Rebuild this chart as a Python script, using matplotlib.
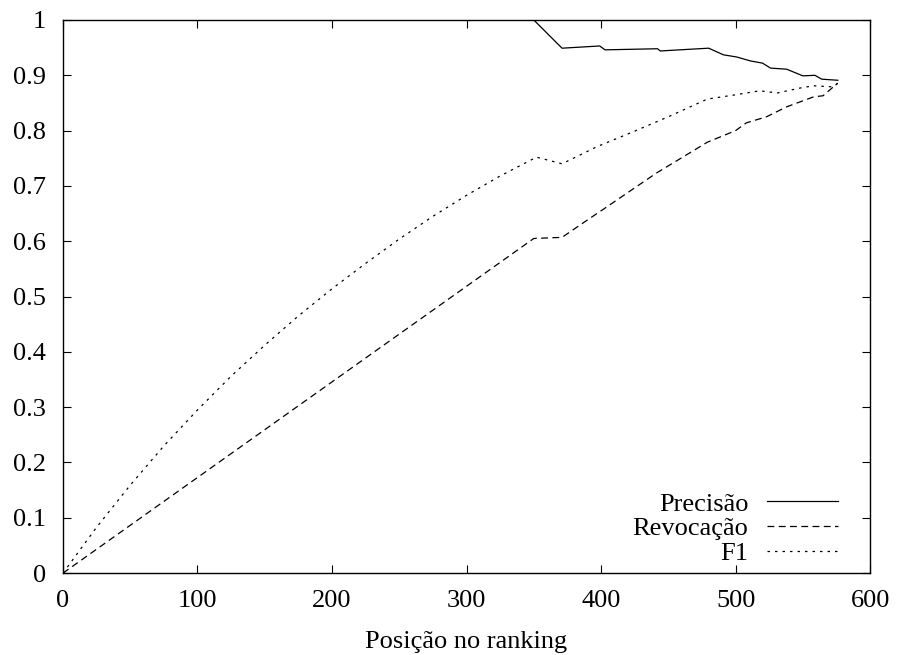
import matplotlib.pyplot as plt

# values
rank_p = [0, 350, 371, 399, 403, 442, 444, 480, 491, 501, 511, 520, 526, 538, 550, 559, 564, 576]
precisao = [1.0, 1.0, 0.949, 0.953, 0.946, 0.948, 0.944, 0.949, 0.937, 0.933, 0.926, 0.922,
            0.913, 0.911, 0.899, 0.900, 0.893, 0.891]

rank_r = [0, 350, 371, 392, 400, 441, 479, 488, 500, 508, 523, 538, 558, 565, 576]
revocacao = [0.0, 0.605, 0.607, 0.642, 0.655, 0.723, 0.779, 0.788, 0.800, 0.814, 0.825,
             0.843, 0.861, 0.863, 0.886]

rank_f = [0, 25, 50, 75, 100, 125, 150, 175, 200, 225, 250, 275, 300, 325, 352, 371,
          397, 424, 450, 479, 498, 518, 531, 548, 558, 573, 576]
f1 = [0.0, 0.083, 0.159, 0.230, 0.295, 0.356, 0.412, 0.465, 0.514, 0.560, 0.604, 0.645,
      0.683, 0.718, 0.752, 0.740, 0.771, 0.798, 0.825, 0.857, 0.864, 0.872, 0.868, 0.877,
      0.881, 0.879, 0.886]

plt.rcParams['font.family'] = ['Liberation Serif', 'DejaVu Serif']
plt.rcParams['font.size'] = 19

fig = plt.figure(figsize=(8.97, 6.55), dpi=100)
ax = fig.add_axes([0.0702, 0.125, 0.8998, 0.8445])

lw = 0.9
ax.plot(rank_p, precisao, color="black", lw=lw, label="Precisão")
ax.plot(rank_r, revocacao, color="black", lw=lw, dashes=(5.5, 3.5), label="Revocação")
ax.plot(rank_f, f1, color="black", lw=lw, dashes=(2, 4), label="F1")

ax.set_xlim(0, 600)
ax.set_ylim(0, 1)
ax.set_xticks([0, 100, 200, 300, 400, 500, 600])
ax.set_yticks([0, 0.1, 0.2, 0.3, 0.4, 0.5, 0.6, 0.7, 0.8, 0.9, 1])
ax.set_yticklabels(["0", "0.1", "0.2", "0.3", "0.4", "0.5", "0.6", "0.7", "0.8", "0.9", "1"])
ax.tick_params(direction="in", length=6, width=0.8, top=True, right=True, pad=12)
for s in ax.spines.values():
    s.set_linewidth(1.0)
ax.set_xlabel("Posição no ranking", labelpad=14)

ax.legend(loc="lower right", bbox_to_anchor=(0.97, 0.0), markerfirst=False, frameon=False,
          handlelength=2.7, handletextpad=0.7, labelspacing=0.05, borderaxespad=0.0,
          borderpad=0.3)

fig.savefig("out.png", dpi=100)
